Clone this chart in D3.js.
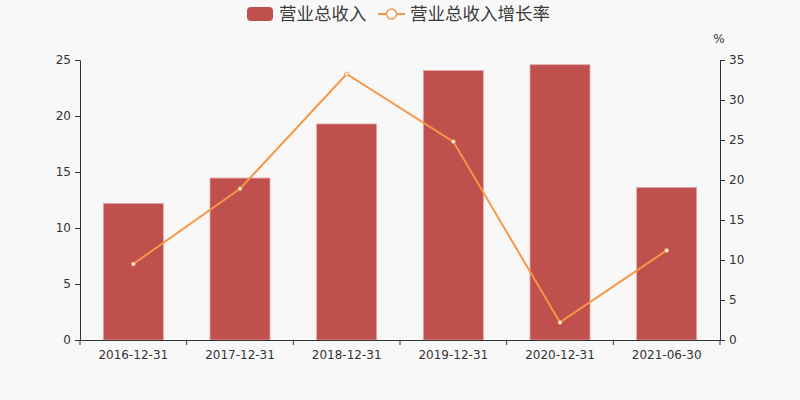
<!DOCTYPE html>
<html>
<head>
<meta charset="utf-8">
<script src="https://cdn.jsdelivr.net/npm/d3@7"></script>
<style>
  body { margin: 0; background: #f8f8f8; }
  svg { font-family: "DejaVu Sans", sans-serif; }
</style>
</head>
<body>
<svg width="800" height="400"></svg>
<script>
// data
var dates = ["2016-12-31", "2017-12-31", "2018-12-31", "2019-12-31", "2020-12-31", "2021-06-30"];
var revenue = [12.19, 14.46, 19.29, 24.06, 24.58, 13.62];
var growth = [9.5, 18.9, 33.25, 24.8, 2.2, 11.2];
var leftTicks = [0, 5, 10, 15, 20, 25];
var rightTicks = [0, 5, 10, 15, 20, 25, 30, 35];

var svg = d3.select("svg");
svg.append("rect").attr("width", 800).attr("height", 400).attr("fill", "#f8f8f8");

var xc = d3.scaleBand().domain(dates).range([80, 720]);
var yL = d3.scaleLinear().domain([0, 25]).range([340, 60]);
var yR = d3.scaleLinear().domain([0, 35]).range([340, 60]);

// bars
svg.append("g").selectAll("rect")
    .data(dates)
    .join("rect")
    .attr("x", d => xc(d) + xc.bandwidth() / 2 - 30)
    .attr("width", 60)
    .attr("y", (d, i) => yL(revenue[i]))
    .attr("height", (d, i) => 340 - yL(revenue[i]))
    .attr("fill", "#c0504d")
    .attr("stroke", "#e0a8a6")
    .attr("stroke-width", 0.8);

// axes
var axisL = svg.append("g").attr("transform", "translate(80,0)")
    .call(d3.axisLeft(yL).tickValues(leftTicks).tickSize(5).tickPadding(4));
var axisR = svg.append("g").attr("transform", "translate(720,0)")
    .call(d3.axisRight(yR).tickValues(rightTicks).tickSize(5).tickPadding(4));
var axisX = svg.append("g").attr("transform", "translate(0,340)")
    .call(d3.axisBottom(xc).tickSize(0).tickPadding(10));

// category separator ticks
svg.append("g").selectAll("line")
    .data(d3.range(dates.length + 1))
    .join("line")
    .attr("x1", i => 80 + i * xc.step())
    .attr("x2", i => 80 + i * xc.step())
    .attr("y1", 340).attr("y2", 345)
    .attr("stroke", "#333");

[axisL, axisR, axisX].forEach(a => {
  a.select(".domain").attr("stroke", "#333");
  a.selectAll(".tick line").attr("stroke", "#333");
  a.selectAll("text").attr("fill", "#333").attr("font-size", 12)
    .attr("font-family", "'DejaVu Sans', sans-serif");
});

svg.append("text").attr("x", 719).attr("y", 43).attr("text-anchor", "middle")
  .attr("font-size", 12).attr("fill", "#333").text("%");

// line
var line = d3.line()
    .x((d, i) => xc(dates[i]) + xc.bandwidth() / 2)
    .y(d => yR(d));
svg.append("path").datum(growth)
    .attr("d", line)
    .attr("fill", "none")
    .attr("stroke", "#f79646")
    .attr("stroke-width", 2);
svg.append("g").selectAll("circle")
    .data(growth)
    .join("circle")
    .attr("cx", (d, i) => xc(dates[i]) + xc.bandwidth() / 2)
    .attr("cy", d => yR(d))
    .attr("r", 2)
    .attr("fill", "#fff")
    .attr("stroke", "#f79646")
    .attr("stroke-width", 1);

// legend
var lg = svg.append("g").attr("font-size", 17.5).attr("fill", "#3c3c3c")
  .attr("font-family", "'Noto Sans CJK SC', sans-serif");
lg.append("rect").attr("x", 247).attr("y", 7).attr("width", 26).attr("height", 14)
  .attr("rx", 4).attr("fill", "#c0504d");
lg.append("text").attr("x", 279).attr("y", 20).text("营业总收入");
lg.append("line").attr("x1", 378).attr("x2", 405).attr("y1", 14).attr("y2", 14)
  .attr("stroke", "#f79646").attr("stroke-width", 2);
lg.append("circle").attr("cx", 391.5).attr("cy", 14).attr("r", 5)
  .attr("fill", "#fff").attr("stroke", "#f79646").attr("stroke-width", 1.5);
lg.append("text").attr("x", 410).attr("y", 20).text("营业总收入增长率");
</script>
</body>
</html>
